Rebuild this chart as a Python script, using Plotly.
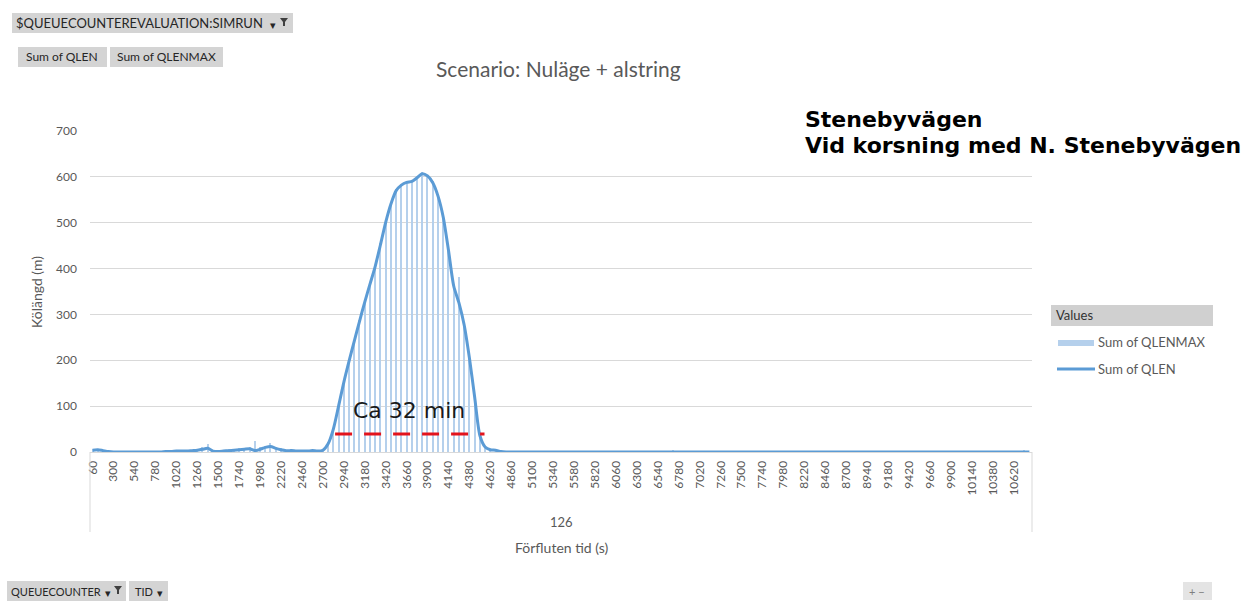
import plotly.graph_objects as go

# Elapsed time categories (s), one per minute over three hours
TID = list(range(60, 10801, 60))

TICK_LABELS = ["60", "300", "540", "780", "1020", "1260", "1500", "1740", "1980",
               "2220", "2460", "2700", "2940", "3180", "3420", "3660", "3900",
               "4140", "4380", "4620", "4860", "5100", "5340", "5580", "5820",
               "6060", "6300", "6540", "6780", "7020", "7260", "7500", "7740",
               "7980", "8220", "8460", "8700", "8940", "9180", "9420", "9660",
               "9900", "10140", "10380", "10620"]

# Sum of QLEN (m)
QLEN = [
    4, 5, 3, 1, 0, 0, 0, 0, 0, 0, 0, 0,
    0, 0, 1, 1, 2, 2, 2, 3, 4, 6, 8, 2,
    1, 2, 3, 4, 5, 6, 7, 3, 6, 10, 12, 8,
    5, 3, 3, 2, 2, 2, 3, 2, 4, 18, 50, 100,
    152, 198, 242, 285, 327, 366, 405, 452, 501, 541, 570, 582,
    588, 590, 598, 607, 602, 587, 558, 512, 440, 362, 325, 277,
    205, 120, 36, 11, 5, 4, 1, 0, 0, 0, 0, 0,
    0, 0, 0, 0, 0, 0, 0, 0, 0, 0, 0, 0,
    0, 0, 0, 0, 0, 0, 0, 0, 0, 0, 0, 0,
    0, 0, 0, 0, 0, 0, 0, 0, 0, 0, 0, 0,
    0, 0, 0, 0, 0, 0, 0, 0, 0, 0, 0, 0,
    0, 0, 0, 0, 0, 0, 0, 0, 0, 0, 0, 0,
    0, 0, 0, 0, 0, 0, 0, 0, 0, 0, 0, 0,
    0, 0, 0, 0, 0, 0, 0, 0, 0, 0, 0, 0,
    0, 0, 0, 0, 0, 0, 0, 0, 0, 0, 0, 0,
]

# Sum of QLENMAX (m)
QLENMAX = [
    6, 7, 5, 2, 1, 0, 0, 0, 0, 0, 1, 0,
    1, 1, 2, 3, 4, 4, 3, 5, 7, 10, 18, 5,
    3, 4, 6, 7, 8, 9, 12, 25, 10, 14, 20, 12,
    8, 5, 5, 4, 4, 4, 5, 4, 6, 21, 53, 103,
    154, 201, 245, 288, 330, 369, 408, 455, 504, 544, 573, 585,
    591, 593, 601, 610, 605, 590, 561, 515, 443, 365, 382, 280,
    208, 123, 39, 14, 7, 6, 2, 0, 0, 0, 0, 0,
    0, 0, 0, 0, 0, 0, 0, 0, 0, 0, 0, 0,
    0, 0, 0, 0, 0, 0, 0, 0, 0, 0, 0, 0,
    0, 0, 0, 5, 0, 0, 0, 0, 0, 0, 0, 0,
    0, 0, 0, 0, 0, 0, 0, 0, 0, 0, 0, 0,
    0, 0, 0, 0, 0, 0, 0, 0, 0, 0, 0, 0,
    0, 0, 0, 0, 0, 0, 0, 0, 0, 0, 0, 0,
    0, 0, 0, 0, 0, 0, 0, 0, 0, 0, 0, 0,
    0, 0, 0, 0, 0, 0, 0, 0, 0, 0, 3, 0,
]

# Marked congestion period (s) and the level it is drawn at (m)
PERIOD = [2840, 4553]
PERIOD_LEVEL = 39

W, H = 1248, 601
ML, MR, MT, MB = 90, 216, 131, 149
PW, PH = W - ML - MR, H - MT - MB

FONT = "Lato, 'Open Sans', sans-serif"
GREY = "#595959"
BLUE = "#5B9BD5"
LIGHT = "#B5D0EC"


def px(x):
    return (x - ML) / PW


def py(y):
    return (H - MB - y) / PH


fig = go.Figure()
fig.add_trace(go.Bar(
    x=TID, y=QLENMAX, width=13, name="Sum of QLENMAX",
    marker=dict(color=LIGHT, line=dict(width=0)), showlegend=False,
))
fig.add_trace(go.Scatter(
    x=TID, y=QLEN, mode="lines", name="Sum of QLEN",
    line=dict(color=BLUE, width=3, shape="spline", smoothing=0.7),
    showlegend=False,
))

shapes = []
annotations = []


def text(t, x, y, size=13, color=GREY, family=FONT, xanchor="center",
         angle=0, bold=False):
    annotations.append(dict(
        text=f"<b>{t}</b>" if bold else t, x=px(x), y=py(y),
        xref="paper", yref="paper", showarrow=False,
        xanchor=xanchor, yanchor="middle", textangle=angle,
        font=dict(size=size, color=color, family=family),
    ))


def box(x0, y0, x1, y1, fill="#D4D4D4"):
    shapes.append(dict(
        type="rect", xref="paper", yref="paper",
        x0=px(x0), x1=px(x1), y0=py(y1), y1=py(y0),
        fillcolor=fill, line=dict(width=0), layer="above",
    ))


def funnel(x, y, color="#404040"):
    pts = [(x - 4, y - 4), (x + 4, y - 4), (x + 1, y), (x + 1, y + 4),
           (x - 1, y + 4), (x - 1, y)]
    path = "M " + " L ".join(f"{px(a):.5f},{py(b):.5f}" for a, b in pts) + " Z"
    shapes.append(dict(type="path", xref="paper", yref="paper", path=path,
                       fillcolor=color, line=dict(width=0), layer="above"))


# Congestion period marker
shapes.append(dict(
    type="line", xref="x", yref="y",
    x0=PERIOD[0], x1=PERIOD[1], y0=PERIOD_LEVEL, y1=PERIOD_LEVEL,
    line=dict(color="#E3141C", width=3, dash="17px,12px"),
))
text("Ca 32 min", 409, 410, size=22, color="#1A1A1A", family="DejaVu Sans")

# Outer category level separators
for xe in (ML, ML + PW):
    shapes.append(dict(type="line", xref="paper", yref="paper",
                       x0=px(xe), x1=px(xe), y0=0, y1=py(532),
                       line=dict(color="#D9D9D9", width=1)))
text("126", 561, 522, size=13)
text("Förfluten tid (s)", 561, 547, size=14)
text("Kölängd (m)", 36, 292, size=14, angle=-90)

# Titles
text("Scenario: Nuläge + alstring", 558, 68, size=21)
text("Stenebyvägen", 803, 119, size=22, color="black",
     family="DejaVu Sans", xanchor="left", bold=True)
text("Vid korsning med N. Stenebyvägen", 803, 145, size=22, color="black",
     family="DejaVu Sans", xanchor="left", bold=True)

# Legend
box(1051, 305, 1213, 326, fill="#D0D0D0")
text("Values", 1054, 315, size=13, color="#333333", xanchor="left")
shapes.append(dict(type="rect", xref="paper", yref="paper",
                   x0=px(1058), x1=px(1094), y0=py(346), y1=py(340),
                   fillcolor=LIGHT, line=dict(width=0)))
text("Sum of QLENMAX", 1096, 342, size=13, xanchor="left")
shapes.append(dict(type="line", xref="paper", yref="paper",
                   x0=px(1057), x1=px(1095), y0=py(369), y1=py(369),
                   line=dict(color=BLUE, width=3)))
text("Sum of QLEN", 1096, 369, size=13, xanchor="left")

# Pivot field buttons
BTN = "#262626"
box(12, 13, 293, 33)
text("$QUEUECOUNTEREVALUATION:SIMRUN", 14, 23, size=13, color=BTN,
     xanchor="left")
text("▾", 273, 24, size=11, color=BTN)
funnel(284, 22)

box(18, 47, 107, 67)
text("Sum of QLEN", 62, 57, size=12, color=BTN)
box(110, 47, 223, 67)
text("Sum of QLENMAX", 166, 57, size=12, color=BTN)

box(7, 581, 126, 601)
text("QUEUECOUNTER", 9, 591, size=11, color=BTN, xanchor="left")
text("▾", 108, 592, size=11, color=BTN)
funnel(118, 590)
box(129, 581, 168, 601)
text("TID", 133, 591, size=11, color=BTN, xanchor="left")
text("▾", 160, 592, size=11, color=BTN)

box(1183, 582, 1212, 600, fill="#E4E4E4")
text("+ −", 1197, 591, size=11, color="#7F7F7F")

fig.update_layout(
    width=W, height=H, autosize=False,
    margin=dict(l=ML, r=MR, t=MT, b=MB, pad=0),
    paper_bgcolor="white", plot_bgcolor="white",
    font=dict(family=FONT, color=GREY, size=12),
    bargap=0, showlegend=False,
    shapes=shapes, annotations=annotations,
    xaxis=dict(
        range=[30, 10830], tickmode="array",
        tickvals=[int(v) for v in TICK_LABELS], ticktext=TICK_LABELS,
        tickangle=-90, tickfont=dict(size=12, color=GREY),
        showgrid=False, zeroline=False, showline=True,
        linecolor="#D9D9D9", linewidth=1, ticks="", ticklabelstandoff=3,
    ),
    yaxis=dict(
        range=[0, 700], dtick=100, tickfont=dict(size=12, color=GREY),
        showgrid=True, gridcolor="#D9D9D9", gridwidth=1,
        zeroline=False, showline=False, ticks="", ticklabelstandoff=12,
    ),
)

fig.write_html("out.html", config={"displayModeBar": False})
